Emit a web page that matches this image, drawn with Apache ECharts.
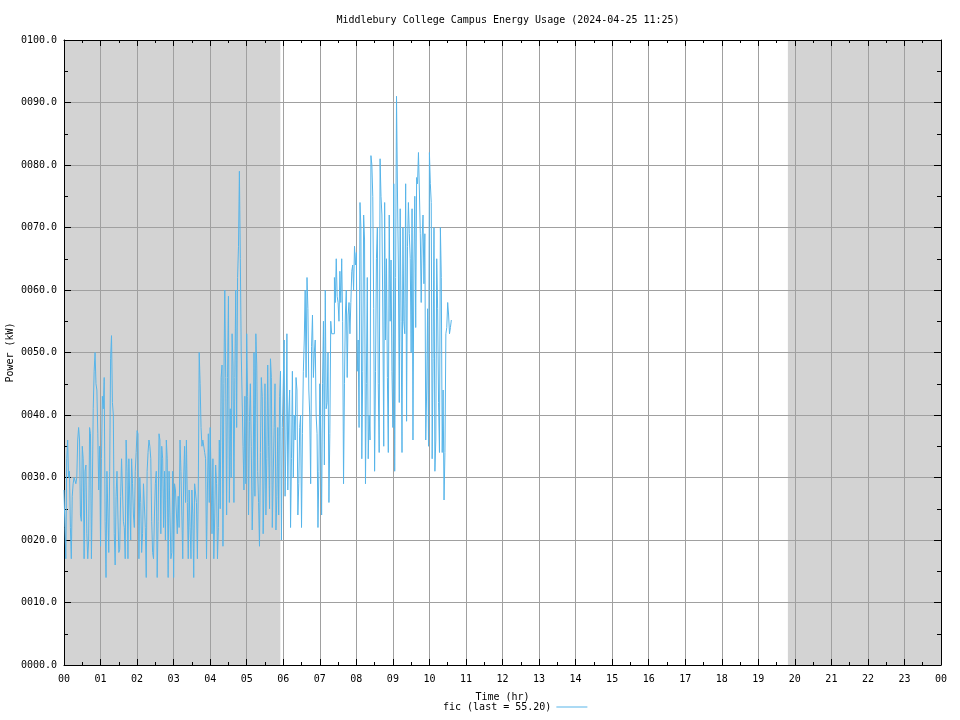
<!DOCTYPE html>
<html>
<head>
<meta charset="utf-8">
<script src="https://cdn.jsdelivr.net/npm/echarts@6/dist/echarts.min.js"></script>
<style>html,body{margin:0;padding:0;background:#fff}#c{width:960px;height:720px}</style>
</head>
<body>
<div id="c"></div>
<script>
// Readings every 1.5 minutes starting at 00:00 (kW)
const sampleStepMinutes = 1.5;
const fic = [
  28, 22, 17, 33, 36, 30, 31, 22, 17, 27, 29, 30, 30, 29, 30, 36, 38, 36, 24, 23,
  35, 33, 17, 31, 32, 21, 17, 20, 38, 37, 17, 28, 41, 47, 50, 45, 44, 37, 28, 35,
  19, 33, 43, 41, 46, 23, 14, 31, 31, 18, 31, 49, 52.7, 42, 40, 21, 16, 27, 31, 24,
  18, 18.5, 27, 33, 33, 23, 22, 17, 36, 31, 17, 33, 33, 20, 33, 29, 24, 22, 31, 34,
  37.5, 37, 17, 30, 26, 18, 21, 29, 29, 22, 14, 31, 34, 36, 35, 33, 23, 18, 17, 24,
  29, 31, 14, 23, 37, 36, 21, 35, 33, 22, 31, 20, 36, 33, 14, 31, 31, 17, 18, 31,
  14, 29, 28, 28, 21, 27, 22, 36,
  31, 24, 17, 30, 35, 26, 36, 26, 17, 28, 22, 17, 28, 24, 14, 29, 29, 26, 17, 28,
  50, 45, 38, 35, 36, 36, 34, 33, 17, 28, 37, 26, 38, 30, 21, 33, 17, 24, 32, 29,
  17, 22, 36, 25, 46, 48, 19, 45, 60, 46, 24, 46, 59, 26, 41, 30, 53, 48, 26, 46,
  60, 38, 62, 67, 79, 65, 50, 50, 35, 28, 43, 29, 53, 43, 24, 39, 45, 35, 21.6, 28,
  50, 27, 53, 48, 31, 26, 19, 34, 46, 43, 21, 30, 45, 24, 33, 48, 35, 25, 49, 46,
  22, 30, 38, 45, 21.6, 27, 38, 24, 43, 47, 20, 38,
  45, 52, 27, 36, 53, 28, 40, 44, 22, 33, 47, 30, 40, 36, 46, 44, 24, 29, 38, 40,
  22, 37, 47, 52, 60, 46, 62, 57, 44, 40, 29, 51, 56, 46, 50, 52, 40, 37, 22, 31,
  45, 37, 24, 45, 55, 32, 60, 41, 42, 50, 26, 37, 55, 53, 53, 53, 62, 58, 65, 59,
  58, 55, 63, 58, 65, 55, 29, 45, 56, 60, 46, 56, 58, 53, 58, 63, 64, 60, 67, 64,
  66, 47, 52, 38, 74, 70, 33, 47, 72, 68, 29, 45, 62, 33, 40, 36, 81.5, 80, 75, 57,
  31, 47, 65, 70, 45, 34, 81, 75, 72, 56, 35, 74, 52, 65, 46, 34, 72, 55,
  64.8, 47, 38, 77, 31, 62, 91, 76, 64, 42, 73, 55, 34, 70, 55, 53, 77, 39, 67, 74,
  69, 65, 50, 73, 36, 64, 75, 54, 78, 77, 82, 76, 69, 58, 68, 72, 61, 69, 36, 44,
  57, 35, 82, 77, 74, 33, 49, 70, 31, 36, 65, 57, 42, 34, 70, 62, 34, 44, 26.4, 34,
  53, 54, 58, 56, 53, 54, 55.2
];
const seriesName = 'fic (last = 55.20)';
const nightBands = [[0, 5.92], [19.81, 24]];
const titleText = 'Middlebury College Campus Energy Usage (2024-04-25 11:25)';

const points = fic.map((v, i) => [i * sampleStepMinutes / 60, v]);

const font = 'DejaVu Sans Mono';
const black = '#000';
const gridColor = '#a0a0a0';

function xAxisBase(pos, showLabel) {
  return {
    type: 'value', min: 0, max: 24, interval: 1, position: pos, zlevel: 1,
    axisLine: { show: true, onZero: false, lineStyle: { color: black, width: 1 } },
    axisTick: { show: true, inside: true, length: 6, lineStyle: { color: black } },
    minorTick: { show: true, splitNumber: 2, length: 3, lineStyle: { color: black } },
    splitLine: { show: showLabel, lineStyle: { color: gridColor, width: 1 } },
    axisLabel: {
      show: showLabel, color: black, fontFamily: font, fontSize: 10, margin: 9,
      formatter: v => String(Math.round(v) % 24).padStart(2, '0')
    }
  };
}
function yAxisBase(pos, showLabel) {
  return {
    type: 'value', min: 0, max: 100, interval: 10, position: pos, zlevel: 1,
    axisLine: { show: true, onZero: false, lineStyle: { color: black, width: 1 } },
    axisTick: { show: true, inside: true, length: 7, lineStyle: { color: black } },
    minorTick: { show: true, splitNumber: 2, length: 4, lineStyle: { color: black } },
    splitLine: { show: showLabel, lineStyle: { color: gridColor, width: 1 } },
    axisLabel: {
      show: showLabel, color: black, fontFamily: font, fontSize: 10, margin: 7,
      formatter: v => v.toFixed(1).padStart(6, '0')
    }
  };
}

const xb = xAxisBase('bottom', true);
xb.name = 'Time (hr)';
xb.nameLocation = 'middle';
xb.nameGap = 27;
xb.nameMoveOverlap = false;
xb.nameTextStyle = { color: black, fontFamily: font, fontSize: 10 };
const yl = yAxisBase('left', true);
yl.name = 'Power (kW)';
yl.nameLocation = 'middle';
yl.nameGap = 49;
yl.nameMoveOverlap = false;
yl.nameTextStyle = { color: black, fontFamily: font, fontSize: 10 };

const chart = echarts.init(document.getElementById('c'), null, { renderer: 'canvas' });
chart.setOption({
  animation: false,
  backgroundColor: '#fff',
  textStyle: { fontFamily: font },
  title: {
    text: titleText, left: 503, textAlign: 'center', top: 10,
    textStyle: { fontFamily: font, fontSize: 10, fontWeight: 'normal', color: black }
  },
  grid: { left: 64, right: 19, top: 40, bottom: 55, containLabel: false, outerBoundsMode: 'none' },
  legend: {
    data: [{ name: seriesName, icon: 'rect' }],
    left: 438, bottom: 3, align: 'right',
    itemWidth: 31, itemHeight: 1,
    textStyle: { fontFamily: font, fontSize: 10, color: black }
  },
  xAxis: [xb, xAxisBase('top', false)],
  yAxis: [yl, yAxisBase('right', false)],
  series: [
    {
      type: 'line', data: [], zlevel: 0, silent: true,
      markArea: {
        silent: true,
        itemStyle: { color: '#d3d3d3' },
        data: nightBands.map(b => [{ xAxis: b[0] }, { xAxis: b[1] }])
      }
    },
    {
      name: seriesName, type: 'line', data: points, step: 'end',
      showSymbol: false, zlevel: 1, z: 5,
      lineStyle: { color: '#56b4e9', width: 1 },
      itemStyle: { color: '#56b4e9' }
    }
  ]
});
</script>
</body>
</html>
